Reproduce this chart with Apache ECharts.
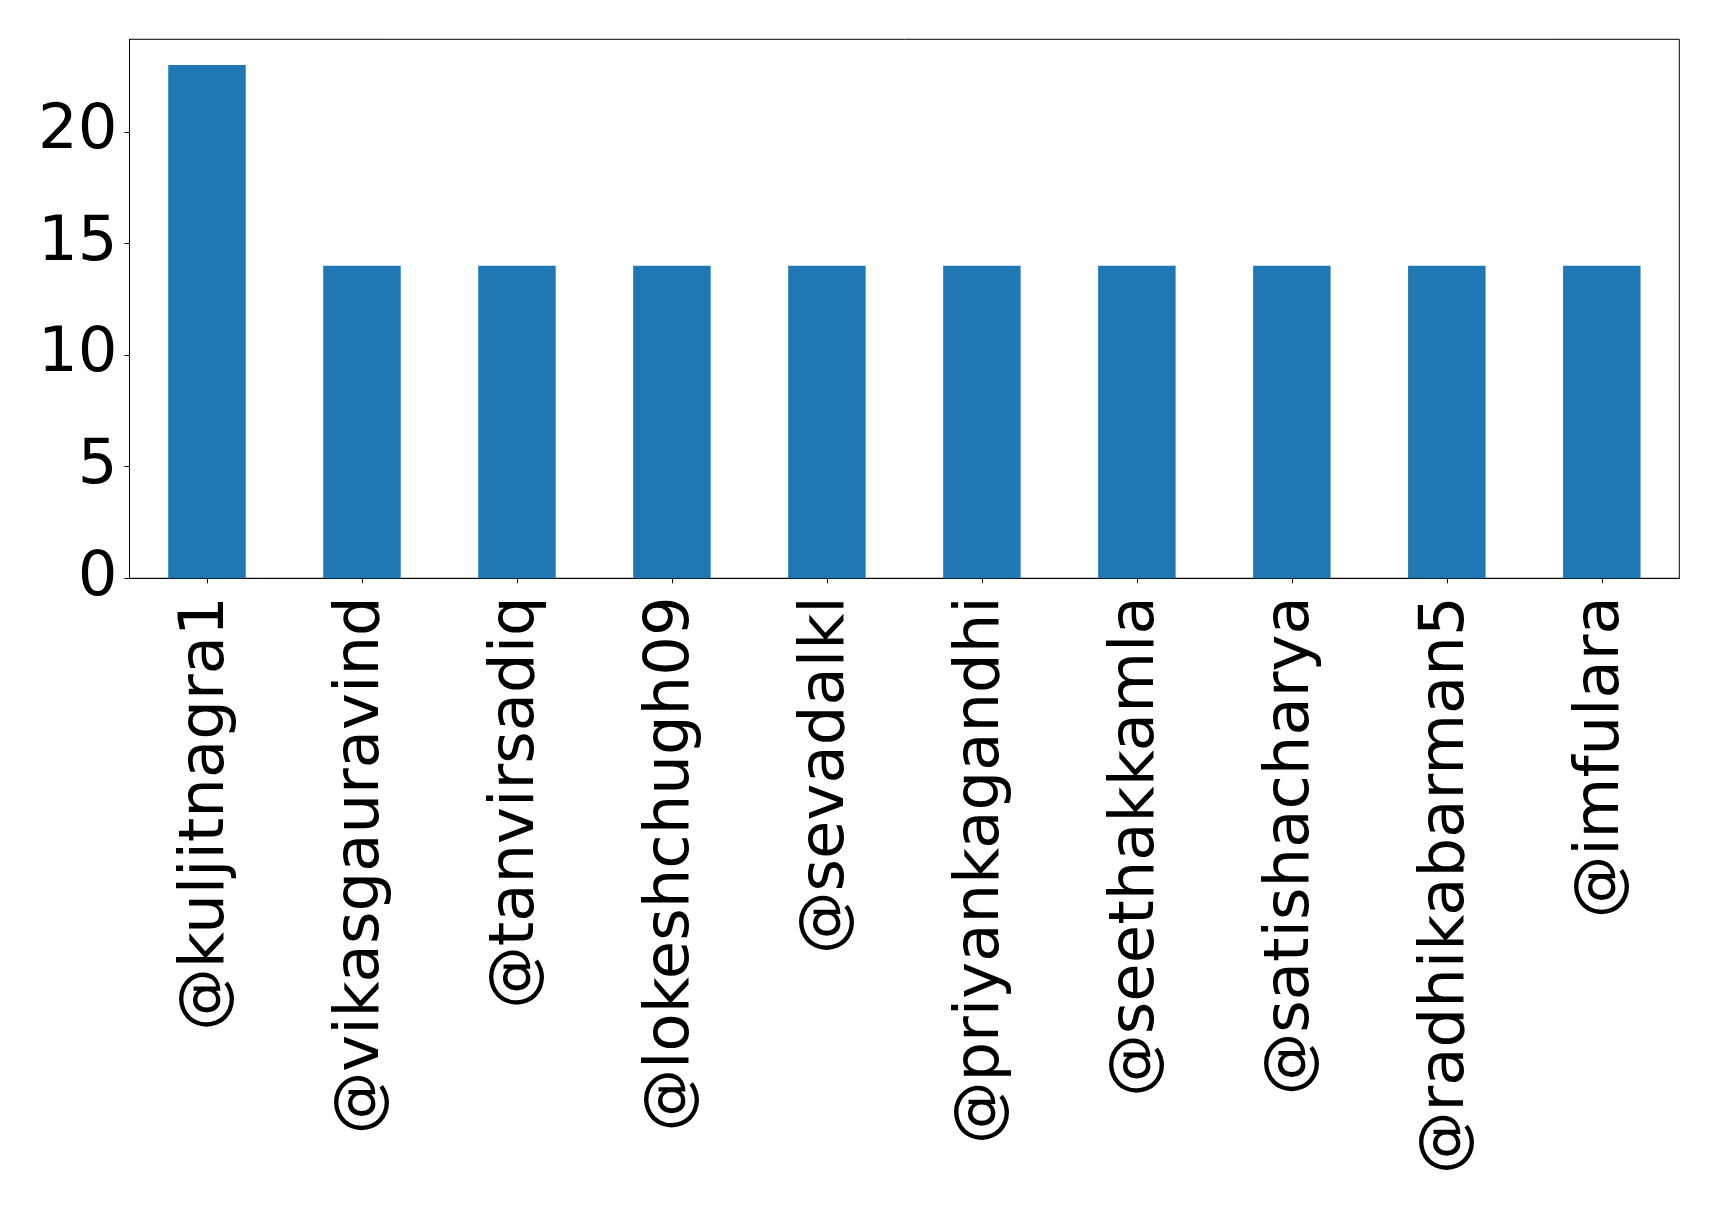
<!DOCTYPE html>
<html>
<head>
<meta charset="utf-8">
<script src="https://cdn.jsdelivr.net/npm/echarts@6/dist/echarts.min.js"></script>
<style>
html,body{margin:0;padding:0;background:#fff;}
#chart{width:1719px;height:1205px;}
</style>
</head>
<body>
<div id="chart"></div>
<script>
const categories = ['@kuljitnagra1','@vikasgauravind','@tanvirsadiq','@lokeshchugh09','@sevadalkl','@priyankagandhi','@seethakkamla','@satishacharya','@radhikabarman5','@imfulara'];
const counts = [23,14,14,14,14,14,14,14,14,14];
const yTicks = [0,5,10,15,20];

const chart = echarts.init(document.getElementById('chart'), null, {renderer:'canvas'});
const font = 'DejaVu Sans';
chart.setOption({
  animation:false,
  backgroundColor:'#fff',
  grid:{left:129.5,right:39.7,top:39.3,bottom:626.7,show:true,borderColor:'#000',borderWidth:1,backgroundColor:'transparent'},
  xAxis:{
    type:'category',
    data:categories,
    boundaryGap:true,
    axisLine:{show:true,lineStyle:{color:'#000',width:1}},
    axisTick:{show:true,alignWithLabel:true,length:5,lineStyle:{color:'#000',width:1}},
    axisLabel:{rotate:90,interval:0,margin:18,color:'#000',fontFamily:font,fontSize:62.5}
  },
  yAxis:{
    type:'value',
    min:0,max:24.15,interval:5,
    splitLine:{show:false},
    axisLine:{show:true,lineStyle:{color:'#000',width:1}},
    axisTick:{show:true,length:5,lineStyle:{color:'#000',width:1},customValues:yTicks},
    axisLabel:{margin:12,color:'#000',fontFamily:font,fontSize:62.5,customValues:yTicks,
      formatter:v=>yTicks.includes(v)?String(v):''}
  },
  series:[{type:'bar',data:counts,barWidth:'50%',itemStyle:{color:'#1f77b4'}}]
});
</script>
</body>
</html>
